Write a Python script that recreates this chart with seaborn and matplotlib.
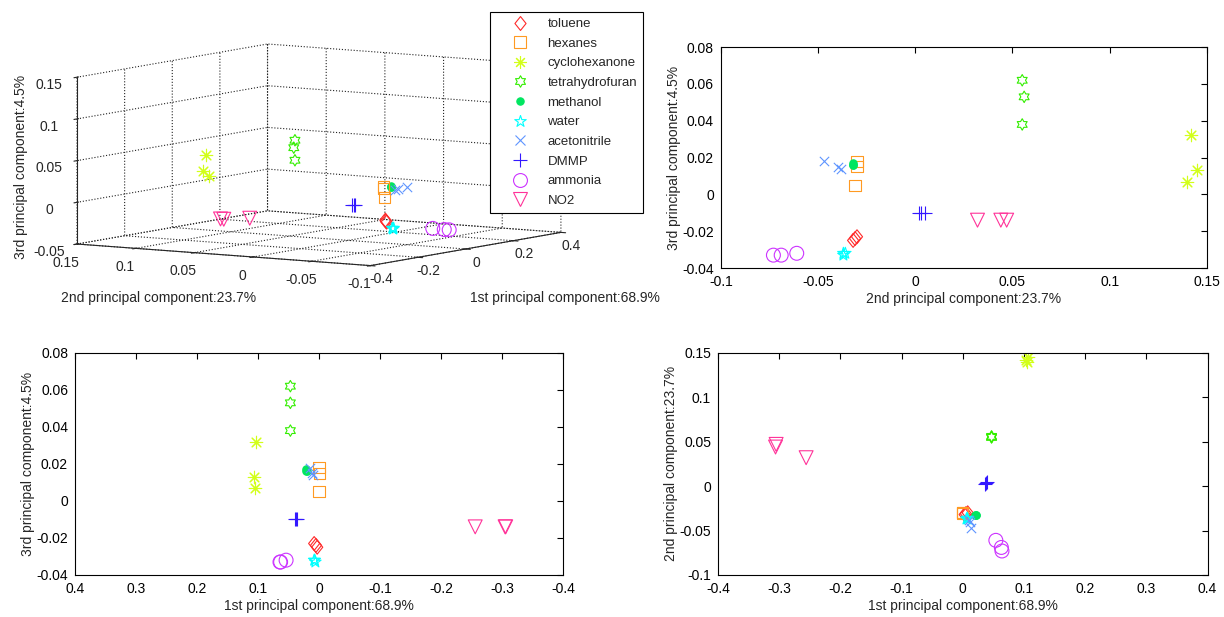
import numpy as np
import pandas as pd
import matplotlib
matplotlib.use("Agg")
import matplotlib.pyplot as plt
import seaborn as sns
from matplotlib.path import Path
from matplotlib.lines import Line2D
from matplotlib.ticker import FuncFormatter

# ---------------- data ----------------
categories = ["toluene", "hexanes", "cyclohexanone", "tetrahydrofuran", "methanol",
              "water", "acetonitrile", "DMMP", "ammonia", "NO2"]
sample_cat = list(np.repeat(categories, 3))

pc1 = [0.008, 0.005, 0.003,        # toluene
       0.000, -0.001, 0.000,       # hexanes
       0.104, 0.106, 0.105,        # cyclohexanone
       0.047, 0.047, 0.047,        # tetrahydrofuran
       0.022, 0.021, 0.020,        # methanol
       0.008, 0.006, 0.007,        # water
       0.014, 0.012, 0.010,        # acetonitrile
       0.036, 0.040, 0.038,        # DMMP
       0.054, 0.063, 0.064,        # ammonia
       -0.305, -0.306, -0.256]     # NO2
pc2 = [-0.030, -0.031, -0.032,
       -0.030, -0.030, -0.031,
       0.142, 0.145, 0.140,
       0.055, 0.056, 0.055,
       -0.032, -0.032, -0.032,
       -0.037, -0.037, -0.036,
       -0.047, -0.040, -0.038,
       0.002, 0.005, 0.003,
       -0.061, -0.069, -0.073,
       0.047, 0.044, 0.032]
pc3 = [-0.023, -0.024, -0.025,
       0.018, 0.015, 0.005,
       0.032, 0.013, 0.007,
       0.062, 0.053, 0.038,
       0.017, 0.016, 0.016,
       -0.032, -0.033, -0.032,
       0.018, 0.015, 0.014,
       -0.010, -0.010, -0.010,
       -0.032, -0.033, -0.033,
       -0.014, -0.014, -0.014]

label_pc1 = "1st principal component:68.9%"
label_pc2 = "2nd principal component:23.7%"
label_pc3 = "3rd principal component:4.5%"

df = pd.DataFrame({"cat": sample_cat, "pc1": pc1, "pc2": pc2, "pc3": pc3})

# ---------------- styles ----------------
def star_path(n, inner):
    verts = []
    for k in range(2 * n):
        ang = np.pi / 2 + k * np.pi / n
        r = 1.0 if k % 2 == 0 else inner
        verts.append((r * np.cos(ang), r * np.sin(ang)))
    verts.append(verts[0])
    codes = [Path.MOVETO] + [Path.LINETO] * (2 * n - 1) + [Path.CLOSEPOLY]
    return Path(verts, codes)

diamond = Path([(0, 1), (0.8, 0), (0, -1), (-0.8, 0), (0, 1)],
               [Path.MOVETO, Path.LINETO, Path.LINETO, Path.LINETO, Path.CLOSEPOLY])
hexagram = star_path(6, 0.577)
pentagram = star_path(5, 0.382)

colors = {"toluene": "#ff2a2a", "hexanes": "#ff9a22", "cyclohexanone": "#d2ff1a",
          "tetrahydrofuran": "#33ee00", "methanol": "#00e660", "water": "#00ffff",
          "acetonitrile": "#5f95ff", "DMMP": "#3318ff", "ammonia": "#cc33ff",
          "NO2": "#ff3399"}
# marker, size(pt^2), kind
mstyle = {"toluene": (diamond, 100, "hollow"),
          "hexanes": ("s", 64, "hollow"),
          "cyclohexanone": ((8, 2, 0), 80, "line"),
          "tetrahydrofuran": (hexagram, 68, "hollow"),
          "methanol": ("o", 28, "filled"),
          "water": (pentagram, 75, "hollow"),
          "acetonitrile": ("x", 45, "line"),
          "DMMP": ("+", 110, "line"),
          "ammonia": ("o", 100, "hollow"),
          "NO2": ("v", 100, "hollow")}
LW = 0.8


def scatter_kws(cat):
    m, s, kind = mstyle[cat]
    c = colors[cat]
    if kind == "hollow":
        return dict(marker=m, s=s, facecolor="none", edgecolor=c, linewidth=LW)
    if kind == "filled":
        return dict(marker=m, s=s, facecolor=c, edgecolor=c, linewidth=LW)
    return dict(marker=m, s=s, color=c, linewidth=LW)


sns.set_style("white")
plt.rcParams["font.family"] = ["Liberation Sans", "DejaVu Sans"]
plt.rcParams["font.size"] = 10
plt.rcParams["grid.linestyle"] = ":"
plt.rcParams["grid.color"] = "#222222"
plt.rcParams["grid.linewidth"] = 0.8

fig = plt.figure(figsize=(12.24, 6.17), dpi=100)


def _fmt(v, p):
    v = round(v, 6)
    if abs(v) < 1e-9:
        v = 0.0
    return f"{v:g}"


fmt = FuncFormatter(_fmt)


def style2d(ax):
    ax.grid(False)
    ax.tick_params(direction="in", top=True, right=True, length=4, width=0.8,
                   labelsize=10, pad=5, colors="black")
    for sp in ax.spines.values():
        sp.set_visible(True)
        sp.set_color("black")
        sp.set_linewidth(0.8)
    ax.xaxis.set_major_formatter(fmt)
    ax.yaxis.set_major_formatter(fmt)


def panel(rect, xcol, ycol, xlim, ylim, xticks, yticks, xlabel, ylabel):
    ax = fig.add_axes(rect)
    for cat in categories:
        sub = df[df["cat"] == cat]
        sns.scatterplot(data=sub, x=xcol, y=ycol, ax=ax, legend=False, **scatter_kws(cat))
    ax.set_xlim(*xlim)
    ax.set_ylim(*ylim)
    ax.set_xticks(xticks)
    ax.set_yticks(yticks)
    style2d(ax)
    ax.set_xlabel(xlabel, fontsize=10, labelpad=2)
    ax.set_ylabel(ylabel, fontsize=10, labelpad=1)
    return ax


panel([0.589, 0.5656, 0.397, 0.358], "pc2", "pc3", (-0.1, 0.15), (-0.04, 0.08),
      np.arange(-0.1, 0.151, 0.05), np.arange(-0.04, 0.081, 0.02), label_pc2, label_pc3)
panel([0.0613, 0.0681, 0.3987, 0.360], "pc1", "pc3", (0.4, -0.4), (-0.04, 0.08),
      np.arange(-0.4, 0.401, 0.1), np.arange(-0.04, 0.081, 0.02), label_pc1, label_pc3)
panel([0.5866, 0.0681, 0.400, 0.360], "pc1", "pc2", (-0.4, 0.4), (-0.1, 0.15),
      np.arange(-0.4, 0.401, 0.1), np.arange(-0.1, 0.151, 0.05), label_pc1, label_pc2)

# ---------------- 3D panel ----------------
ax3 = fig.add_axes([-0.0235, 0.441, 0.56, 0.60], projection="3d", proj_type="ortho")
for cat in categories:
    sub = df[df["cat"] == cat]
    kws = scatter_kws(cat)
    ax3.scatter(sub["pc1"], sub["pc2"], sub["pc3"], depthshade=False, **kws)
ax3.set_xlim(-0.4, 0.4)
ax3.set_ylim(-0.1, 0.15)
ax3.set_zlim(-0.05, 0.15)
ax3.set_xticks([-0.4, -0.2, 0, 0.2, 0.4])
ax3.set_yticks([-0.1, -0.05, 0, 0.05, 0.1, 0.15])
ax3.set_zticks([-0.05, 0, 0.05, 0.1, 0.15])
ax3.grid(True)
for a in (ax3.xaxis, ax3.yaxis, ax3.zaxis):
    a.set_major_formatter(fmt)
    a.pane.fill = False
    a.pane.set_edgecolor("none")
    a._axinfo["grid"].update({"linestyle": ":", "linewidth": 0.8, "color": "#222222"})
    a._axinfo["axisline"]["linewidth"] = 0.9
ax3.tick_params(labelsize=10, pad=0)
ax3.tick_params(axis="x", pad=-3)
ax3.view_init(elev=6.5, azim=-147)
ax3.set_box_aspect((1, 1, 0.48), zoom=1.37)
ax3.patch.set_alpha(0)

fig.text(0.017, 0.73, label_pc3, rotation=90, ha="center", va="center", fontsize=10)
fig.text(0.05, 0.517, label_pc2, ha="left", va="center", fontsize=10)
fig.text(0.384, 0.517, label_pc1, ha="left", va="center", fontsize=10)

# ---------------- legend ----------------
handles = []
for cat in categories:
    m, s, kind = mstyle[cat]
    c = colors[cat]
    ms = np.sqrt(s)
    if kind == "hollow":
        h = Line2D([], [], linestyle="none", marker=m, markersize=ms,
                   markerfacecolor="none", markeredgecolor=c, markeredgewidth=LW)
    elif kind == "filled":
        h = Line2D([], [], linestyle="none", marker=m, markersize=ms,
                   markerfacecolor=c, markeredgecolor=c, markeredgewidth=LW)
    else:
        h = Line2D([], [], linestyle="none", marker=m, markersize=ms,
                   color=c, markeredgewidth=LW)
    handles.append(h)
leg = fig.legend(handles, categories, loc="upper left",
                 bbox_to_anchor=(490 / 1224, 1 - 12 / 617), borderaxespad=0,
                 frameon=True, fancybox=False, framealpha=1, edgecolor="black",
                 fontsize=9.5, labelspacing=0.56, handlelength=3.6, handletextpad=0.3,
                 borderpad=0.45)
leg.get_frame().set_linewidth(0.8)

fig.savefig("out.png", dpi=100, facecolor="white")
